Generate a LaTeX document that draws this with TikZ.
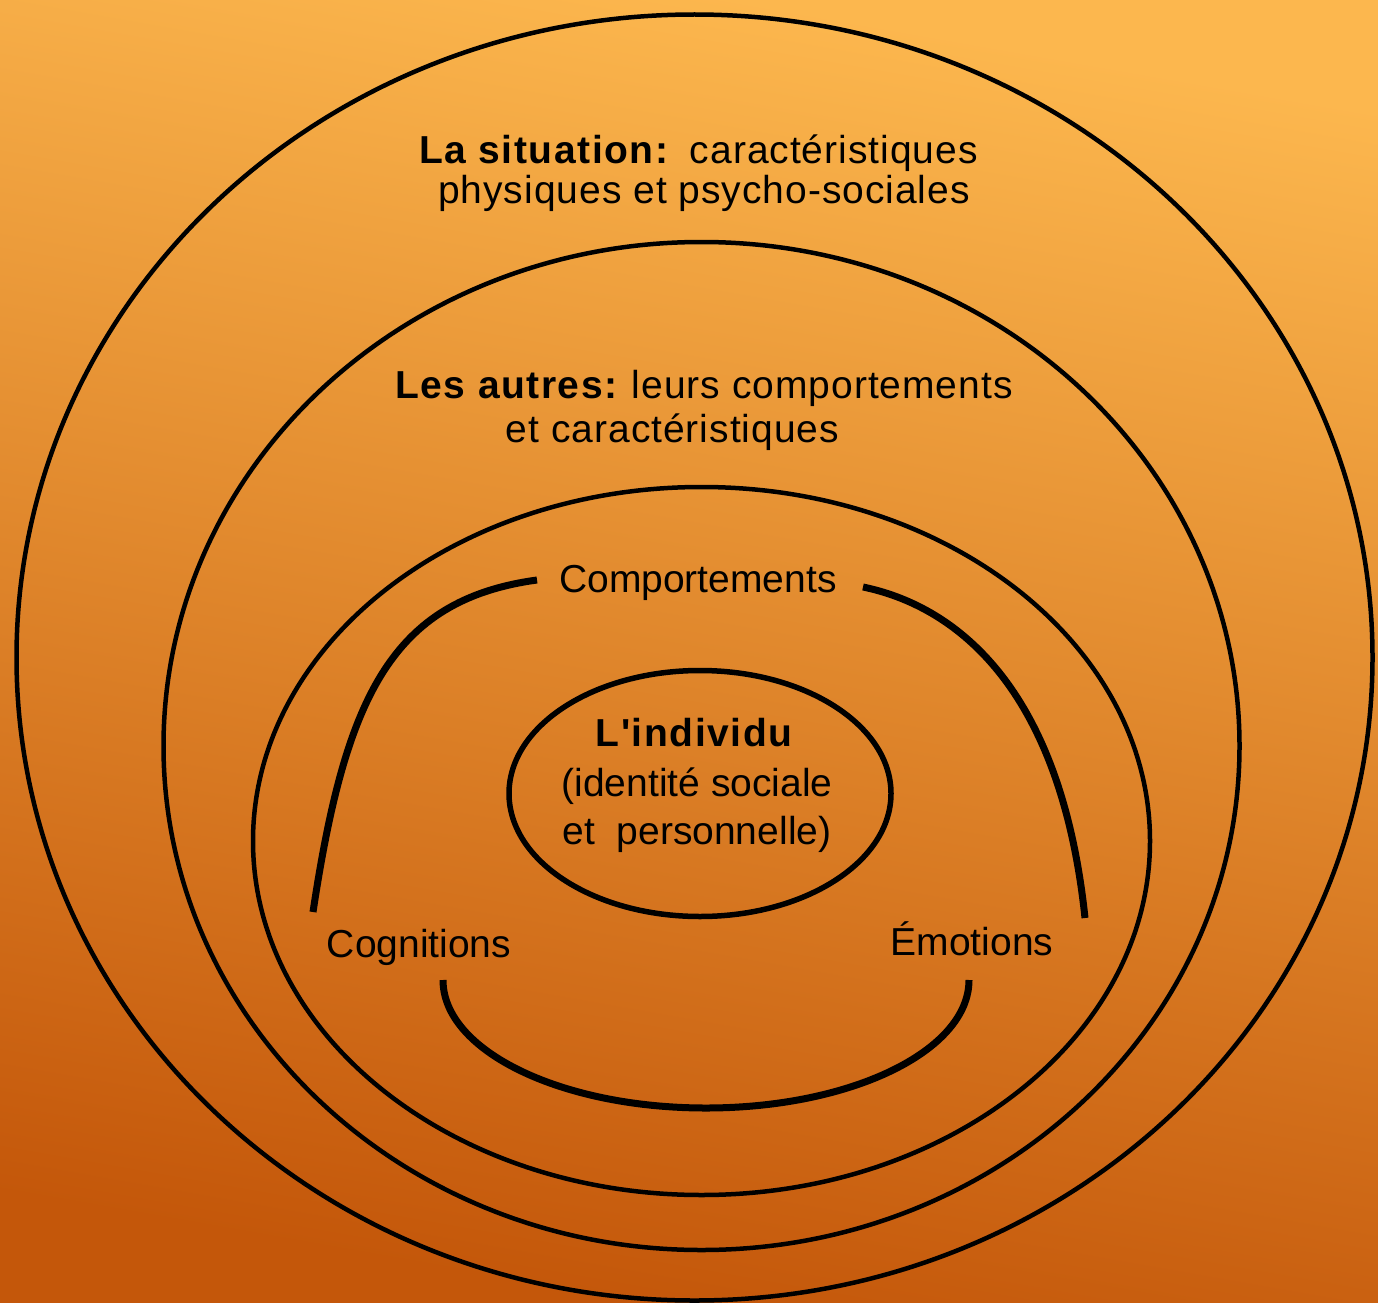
\documentclass[tikz,border=0pt]{standalone}
\usepackage{fontspec}
\setmainfont{Liberation Sans}
% same face without the TeX quote mapping, for a straight apostrophe
\newfontfamily\plainface{Liberation Sans}
\newcommand{\wbold}[1]{{\addfontfeatures{LetterSpace=4}\bfseries #1}}
\newcommand{\wide}{\addfontfeatures{LetterSpace=2.5}}
\begin{document}
\begin{tikzpicture}[x=1pt,y=-1pt,
  ring/.style={draw=black,line width=4.5pt},
  core/.style={draw=black,line width=5.5pt},
  link/.style={draw=black,line width=7pt},
  label/.style={anchor=base,inner sep=0pt,font=\fontsize{39}{46}\selectfont,text=black}]
  % background
  \useasboundingbox (0,0) rectangle (1378,1303);
  \shade[shading=axis,top color={rgb,255:red,252;green,183;blue,78},
         bottom color={rgb,255:red,196;green,87;blue,10},shading angle=-10]
    (0,0) rectangle (1378,1303);

  % nested spheres
  \draw[ring] (694.5,657.5) ellipse [x radius=678pt,y radius=643pt];
  \draw[ring] (701.5,746) ellipse [x radius=538pt,y radius=504pt];
  \draw[ring] (701.5,841) ellipse [x radius=448.5pt,y radius=354pt];
  \draw[core] (700,793.5) ellipse [x radius=191pt,y radius=123pt];

  % texts
  \node[label] (sit1) at (698.5,163) {\wbold{La situation:}\ \ {\wide caractéristiques}};
  \node[label] (sit2) at (704,203) {\wide physiques et psycho-sociales};
  \node[label] (aut1) at (704,398) {\wbold{Les autres:} {\wide leurs comportements}};
  \node[label] (aut2) at (672.5,442) {\wide et caractéristiques};
  \node[label] (comp) at (698,592) {Comportements};
  \node[label] (ind1) at (694,746) {{\plainface\addfontfeatures{LetterSpace=4}\bfseries L'individu}};
  \node[label] (ind2) at (697,796) {(identité sociale};
  \node[label] (ind3) at (697,844) {et\ \ personnelle)};
  \node[label] (cogn) at (419,957) {Cognitions};
  \node[label] (emot) at (972,955) {Émotions};

  % links between the three components
  \coordinate (cl) at (537,580);
  \coordinate (cg) at (313,912);
  \coordinate (cr) at (863,587);
  \coordinate (em) at (1085,918);
  \coordinate (bl) at (443,980);
  \coordinate (bm) at (706,1108);
  \coordinate (br) at (969,980);
  \draw[link] (cl) .. controls (390,600) and (345,700) .. (cg);
  \draw[link] (cr) .. controls (950,605) and (1060,680) .. (em);
  \draw[link] (bl) .. controls (443,1050.7) and (560.7,1108) .. (bm)
                   .. controls (851.3,1108) and (969,1050.7) .. (br);
\end{tikzpicture}
\end{document}
